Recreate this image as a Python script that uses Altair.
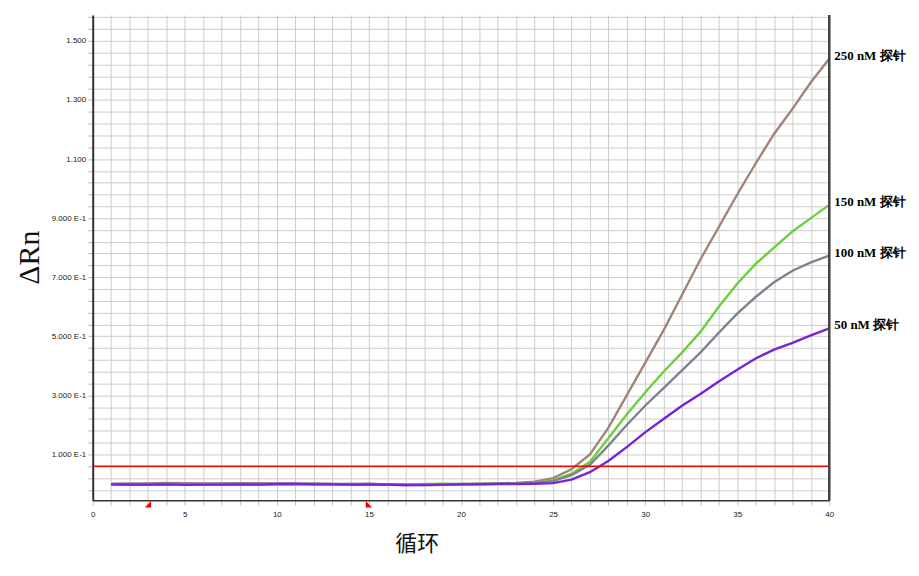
import altair as alt
import pandas as pd

# ---------------- data ----------------
cycles = list(range(1, 41))
probe_labels = ["250 nM 探针", "150 nM 探针", "100 nM 探针", "50 nM 探针"]

rn_250 = [0.000, 0.001, 0.002, 0.004, 0.003, 0.002, 0.002, 0.003, 0.003, 0.002,
          0.001, 0.001, 0.000, 0.000, 0.001, -0.001, -0.002, -0.003, -0.002, 0.000,
          0.001, 0.002, 0.004, 0.008, 0.020,
          0.050, 0.100, 0.190, 0.300, 0.410, 0.520, 0.640, 0.760, 0.870, 0.980,
          1.085, 1.185, 1.270, 1.360, 1.440]
rn_150 = [-0.002, -0.003, -0.003, -0.001, -0.002, -0.002, -0.001, -0.002, -0.003, -0.001,
          -0.001, 0.000, -0.001, 0.000, -0.001, -0.002, -0.001, 0.000, 0.001, 0.000,
          0.000, 0.001, 0.002, 0.004, 0.012,
          0.035, 0.075, 0.155, 0.235, 0.310, 0.380, 0.445, 0.515, 0.600, 0.678,
          0.745, 0.800, 0.855, 0.900, 0.945]
rn_100 = [0.000, 0.001, 0.000, 0.001, 0.000, 0.000, 0.001, 0.001, 0.000, 0.000,
          0.000, 0.001, 0.000, -0.001, 0.000, -0.001, -0.002, -0.004, -0.003, -0.001,
          0.000, 0.001, 0.002, 0.004, 0.010,
          0.030, 0.065, 0.130, 0.200, 0.265, 0.325, 0.385, 0.445, 0.512, 0.577,
          0.633, 0.683, 0.722, 0.750, 0.773]
rn_50 = [-0.001, -0.002, -0.002, -0.001, -0.003, -0.002, -0.002, -0.001, -0.002, 0.000,
         0.001, -0.001, -0.001, -0.002, -0.001, -0.002, -0.004, -0.003, -0.002, -0.001,
         -0.001, 0.000, 0.000, 0.001, 0.003,
         0.015, 0.040, 0.078, 0.125, 0.175, 0.220, 0.265, 0.305, 0.347, 0.387,
         0.425, 0.455, 0.478, 0.503, 0.527]
series_colors = ["#a08478", "#6ad13a", "#7b8590", "#7a22d6"]

threshold = [0.06]
baseline_marks = [3, 15]
baseline_kinds = ["start", "end"]

y_grid_values = [-0.02, 0.02, 0.06, 0.10, 0.14, 0.18, 0.22, 0.26, 0.30, 0.34, 0.38,
                 0.42, 0.46, 0.50, 0.54, 0.58, 0.62, 0.66, 0.70, 0.74, 0.78, 0.82,
                 0.86, 0.90, 0.94, 0.98, 1.02, 1.06, 1.10, 1.14, 1.18, 1.22, 1.26,
                 1.30, 1.34, 1.38, 1.42, 1.46, 1.50, 1.54, 1.58]
y_label_values = [0.1, 0.3, 0.5, 0.7, 0.9, 1.1, 1.3, 1.5]
y_label_texts = ["1.000 E-1", "3.000 E-1", "5.000 E-1", "7.000 E-1",
                 "9.000 E-1", "1.100", "1.300", "1.500"]
x_grid_values = list(range(0, 41))
x_label_values = [0, 5, 10, 15, 20, 25, 30, 35, 40]

# ---------------- tables ----------------
series = [rn_250, rn_150, rn_100, rn_50]
rows = []
for name, vals in zip(probe_labels, series):
    for c, v in zip(cycles, vals):
        rows.append({"cycle": c, "rn": v, "probe": name})
df = pd.DataFrame(rows)

end_df = pd.DataFrame({"cycle": [cycles[-1]] * 4,
                       "rn": [s[-1] for s in series],
                       "probe": probe_labels})
thr_df = pd.DataFrame({"t": threshold})
mark_df = pd.DataFrame({"cycle": baseline_marks, "kind": baseline_kinds})

# label expressions
y_expr = ""
for v, t in zip(y_label_values, y_label_texts):
    y_expr += f"format(datum.value, '.2f') == '{v:.2f}' ? '{t}' : "
y_expr += "''"
x_expr = "indexof([" + ",".join(str(v) for v in x_label_values) + "], datum.value) >= 0 ? datum.label : ''"

W, H = 739, 487
xscale = alt.Scale(domain=[0, 40], nice=False, zero=False)
yscale = alt.Scale(domain=[-0.055, 1.588], nice=False, zero=False)

x_axis = alt.Axis(values=x_grid_values, tickCount=len(x_grid_values) + 5,
                  grid=True, gridColor="#cccccc", gridWidth=1,
                  ticks=True, tickColor="#c4c4c4", tickSize=5, tickWidth=1,
                  domainColor="#333333", domainWidth=1.5,
                  labelExpr=x_expr, labelFont="Liberation Sans", labelFontSize=8,
                  labelColor="#222222", labelPadding=5, labelFlush=False,
                  labelOverlap=False,
                  title="循环", titleFont="Noto Sans CJK SC", titleFontSize=22,
                  titleFontWeight="normal", titleColor="#111111",
                  titleX=325, titleY=43, titleAlign="center", titleBaseline="middle",
                  titleAnchor="start")
y_axis = alt.Axis(values=y_grid_values, tickCount=len(y_grid_values) + 5,
                  grid=True, gridColor="#cccccc", gridWidth=1,
                  ticks=True, tickColor="#bbbbbb", tickSize=5, tickWidth=1,
                  domainColor="#333333", domainWidth=2,
                  labelExpr=y_expr, labelFont="Liberation Sans", labelFontSize=8,
                  labelColor="#222222", labelPadding=2, labelFlush=False,
                  labelOverlap=False,
                  title="ΔRn", titleFont="Liberation Serif", titleFontSize=30,
                  titleFontWeight="normal", titleColor="#111111", titleAngle=270,
                  titleX=-63, titleY=243, titleAlign="center", titleBaseline="middle",
                  titleAnchor="start")

base = alt.Chart(df)

lines = base.mark_line(strokeWidth=2.4, clip=True).encode(
    x=alt.X("cycle:Q", scale=xscale, axis=x_axis),
    y=alt.Y("rn:Q", scale=yscale, axis=y_axis),
    color=alt.Color("probe:N", scale=alt.Scale(domain=probe_labels, range=series_colors),
                    legend=None),
    detail="probe:N",
)

thr = alt.Chart(thr_df).mark_rule(color="#ff0000", strokeWidth=1.5).encode(
    y=alt.Y("t:Q", scale=yscale),
)

border = alt.Chart(thr_df).mark_rule(color="#444444", strokeWidth=2.5).encode(
    x=alt.datum(40, scale=xscale),
    y=alt.value(0), y2=alt.value(H),
)

labels = alt.Chart(end_df).mark_text(
    align="left", baseline="middle", dx=5, dy=-3,
    font="Liberation Serif", fontSize=13, fontWeight="bold", color="#000000"
).encode(
    x=alt.X("cycle:Q", scale=xscale),
    y=alt.Y("rn:Q", scale=yscale),
    text="probe:N",
)

tri = alt.Chart(mark_df).mark_point(filled=True, size=40, opacity=1).encode(
    x=alt.X("cycle:Q", scale=xscale),
    y=alt.value(H + 4),
    shape=alt.Shape("kind:N", scale=alt.Scale(domain=baseline_kinds,
                                              range=["M 1 -1 L 1 1 L -1 1 Z",
                                                     "M -1 -1 L 1 1 L -1 1 Z"]),
                    legend=None),
    color=alt.value("#ee0000"),
)

chart = alt.layer(lines, thr, border, labels, tri).properties(
    width=W, height=H,
    autosize=alt.AutoSizeParams(type="none"),
    padding={"left": 85, "top": 6, "right": 82, "bottom": 60},
    background="#ffffff",
).configure_view(stroke=None)

chart.save("out.html", embed_options={"renderer": "svg", "actions": False})
